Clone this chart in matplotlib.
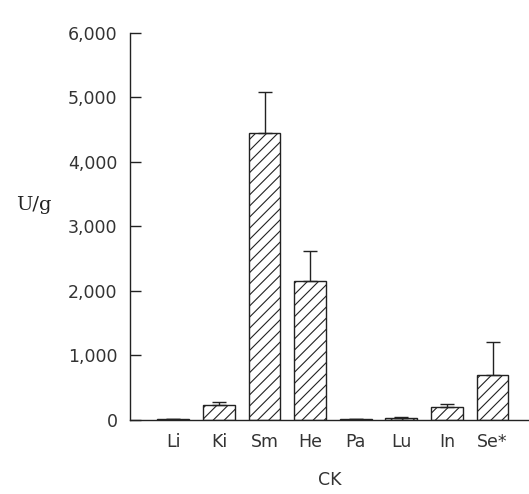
import numpy as np
import matplotlib
matplotlib.use("Agg")
import matplotlib.pyplot as plt

# tissue categories and CK activity (U/g) with SEM
tissues = ["Li", "Ki", "Sm", "He", "Pa", "Lu", "In", "Se*"]
values = [8, 225, 4440, 2155, 8, 30, 200, 690]
errors = [0, 50, 645, 460, 0, 10, 40, 510]
yticks = [0, 1000, 2000, 3000, 4000, 5000, 6000]
yticklabels = ["0", "1,000", "2,000", "3,000", "4,000", "5,000", "6,000"]

plt.rcParams["hatch.linewidth"] = 0.8
plt.rcParams["hatch.color"] = "#333333"

fig = plt.figure(figsize=(5.29, 4.94), dpi=100)
ax = fig.add_axes([0.2457, 0.1508, 0.7543, 0.783])

x = np.arange(len(tissues))
low = np.zeros(len(errors))
ax.bar(x, values, width=0.7, color="white", edgecolor="#222222",
       linewidth=1.0, hatch="///", zorder=2)
ax.errorbar(x, values, yerr=[low, errors], fmt="none", ecolor="#222222",
            elinewidth=1.0, capsize=5, capthick=1.0, zorder=3)

ax.set_xlim(-0.95, 7.8)
ax.set_ylim(0, 6000)
ax.set_xticks(x)
ax.set_xticklabels(tissues)
ax.set_yticks(yticks)
ax.set_yticklabels(yticklabels)

for side in ["top", "right"]:
    ax.spines[side].set_visible(False)
ax.spines["left"].set_color("#222222")
ax.spines["bottom"].set_color("#222222")
ax.spines["left"].set_linewidth(1.0)
ax.spines["bottom"].set_linewidth(1.0)

ax.tick_params(axis="y", direction="in", length=8, width=1.0, pad=9,
               labelsize=12.5, labelcolor="#333333", color="#222222")
ax.tick_params(axis="x", length=0, pad=10, labelsize=12.5, labelcolor="#333333")

ax.set_xlabel("CK", fontsize=12.5, color="#333333", labelpad=14)
fig.text(0.063, 0.585, "U/g", fontsize=14, family="DejaVu Serif",
         color="#222222", ha="center", va="center")

fig.savefig("out.png", dpi=100)
